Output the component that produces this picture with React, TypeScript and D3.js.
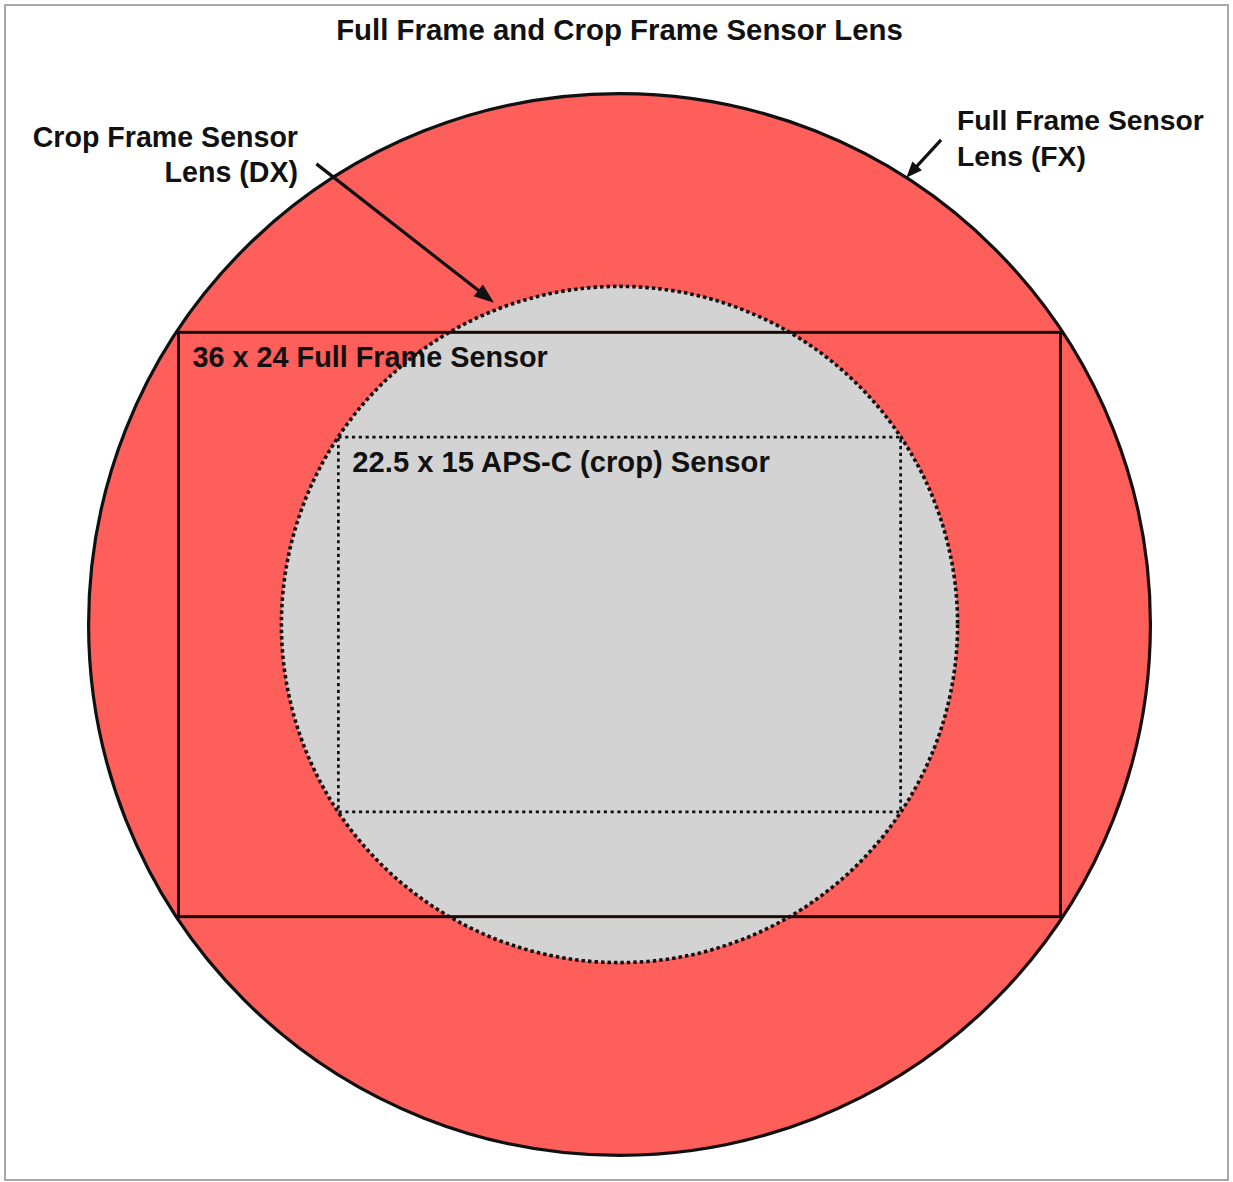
import React from "react";
import * as d3 from "d3";

// ---- data (millimetres, as drawn in the reference) ----
const titleText = "Full Frame and Crop Frame Sensor Lens";
const sensorLabels = ["36 x 24 Full Frame Sensor", "22.5 x 15 APS-C (crop) Sensor"];
const sensorWidthsMm = [36, 22.95];
const sensorHeightsMm = [23.85, 15.3];
const lensNames = ["FX", "DX"];
const lensRadiiMm = [21.67, 13.8];
const lensLabelLines = [
  ["Full Frame Sensor", "Lens (FX)"],
  ["Crop Frame Sensor", "Lens (DX)"],
];
// annotation arrows: angle on lens circle (deg, screen coords), tail direction (deg), tail length (mm)
const arrowTipAngles = [-57.3, 248.7];
const arrowTailAngles = [-47.5, 218];
const arrowTailLengthsMm = [2.1, 9.2];

const W = 1233;
const H = 1182;
const CX = 619.5;
const CY = 624.5;
const K = 24.5; // px per mm

const FONT = "'Liberation Sans', Arial, Helvetica, sans-serif";
const RED = "#FF5F5B";
const GRAY = "#D3D3D3";
const INK = "#111";

function arrowPath(tx: number, ty: number, sx: number, sy: number, len: number, half: number) {
  const a = Math.atan2(ty - sy, tx - sx);
  const bx = tx - len * Math.cos(a);
  const by = ty - len * Math.sin(a);
  const px = -Math.sin(a) * half;
  const py = Math.cos(a) * half;
  return `M${tx},${ty}L${bx + px},${by + py}L${bx - px},${by - py}Z`;
}

export default function App() {
  const x = d3.scaleLinear().domain([-1, 1]).range([CX - K, CX + K]);
  const y = d3.scaleLinear().domain([-1, 1]).range([CY - K, CY + K]);
  const size = d3.scaleLinear().domain([0, 1]).range([0, K]);

  const rects = sensorLabels.map((label, i) => {
    const w = sensorWidthsMm[i];
    const h = sensorHeightsMm[i];
    return { label, x0: x(-w / 2), y0: y(-h / 2), w: size(w), h: size(h) };
  });

  const arrows = lensNames.map((_, i) => {
    const ang = (arrowTipAngles[i] * Math.PI) / 180;
    const r = lensRadiiMm[i] + (i === 1 ? 0.3 : 0);
    const tx = x(r * Math.cos(ang));
    const ty = y(r * Math.sin(ang));
    const ta = (arrowTailAngles[i] * Math.PI) / 180;
    const sx = tx + size(arrowTailLengthsMm[i]) * Math.cos(ta);
    const sy = ty + size(arrowTailLengthsMm[i]) * Math.sin(ta);
    return { tx, ty, sx, sy };
  });

  return (
    <svg
      width={W}
      height={H}
      viewBox={`0 0 ${W} ${H}`}
      style={{ position: "absolute", left: 0, top: 0, display: "block", background: "#fff" }}
      fontFamily={FONT}
    >
      <rect x={5} y={5} width={1223} height={1175} fill="#fff" stroke="#a8a8a8" strokeWidth={2} />

      <text x={CX} y={40} textAnchor="middle" fontSize={29.4} fontWeight="bold" fill={INK}>
        {titleText}
      </text>

      {/* FX lens circle */}
      <circle cx={x(0)} cy={y(0)} r={size(lensRadiiMm[0])} fill={RED} stroke={INK} strokeWidth={3.2} />
      {/* DX lens circle */}
      <circle
        cx={x(0)}
        cy={y(0)}
        r={size(lensRadiiMm[1])}
        fill={GRAY}
        stroke={INK}
        strokeWidth={3.6}
        strokeDasharray="3.5 3"
      />

      {/* full frame sensor */}
      <rect x={rects[0].x0} y={rects[0].y0} width={rects[0].w} height={rects[0].h} fill="none" stroke="#1a0a0a" strokeWidth={3} />
      {/* crop sensor */}
      <rect
        x={rects[1].x0}
        y={rects[1].y0}
        width={rects[1].w}
        height={rects[1].h}
        fill="none"
        stroke={INK}
        strokeWidth={2.7}
        strokeDasharray="3.2 3.6"
      />

      {rects.map((r, i) => (
        <text key={i} x={r.x0 + 14} y={r.y0 + 35} fontSize={i === 0 ? 28.8 : 29.2} fontWeight="bold" fill={INK}>
          {r.label}
        </text>
      ))}

      {/* lens labels */}
      <text x={957} y={130} fontSize={28.3} fontWeight="bold" fill={INK}>
        <tspan x={957} y={130}>{lensLabelLines[0][0]}</tspan>
        <tspan x={957} y={166}>{lensLabelLines[0][1]}</tspan>
      </text>
      <text x={298} y={147} fontSize={28.6} fontWeight="bold" fill={INK} textAnchor="end">
        <tspan x={298} y={147}>{lensLabelLines[1][0]}</tspan>
        <tspan x={298} y={182}>{lensLabelLines[1][1]}</tspan>
      </text>

      {arrows.map((a, i) => {
        const len = i === 1 ? 20 : 16;
        const half = i === 1 ? 7.5 : 6.5;
        const ang = Math.atan2(a.ty - a.sy, a.tx - a.sx);
        const ex = a.tx - (len - 2) * Math.cos(ang);
        const ey = a.ty - (len - 2) * Math.sin(ang);
        return (
          <g key={i}>
            <line x1={a.sx} y1={a.sy} x2={ex} y2={ey} stroke={INK} strokeWidth={3.2} />
            <path d={arrowPath(a.tx, a.ty, a.sx, a.sy, len, half)} fill={INK} />
          </g>
        );
      })}
    </svg>
  );
}
